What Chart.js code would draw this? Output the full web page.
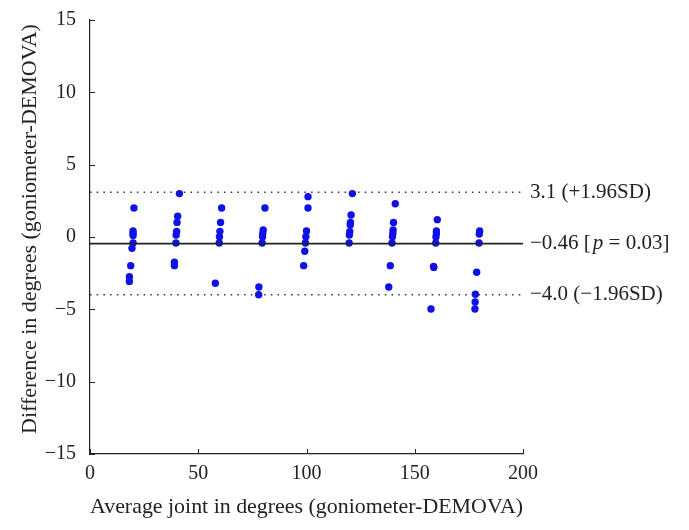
<!DOCTYPE html>
<html>
<head>
<meta charset="utf-8">
<title>Bland-Altman: goniometer vs DEMOVA</title>
<script src="https://cdn.jsdelivr.net/npm/chart.js@4/dist/chart.umd.min.js"></script>
<style>
  html, body { margin: 0; padding: 0; background: #fff; }
  #wrap { width: 689px; height: 530px; position: relative; }
</style>
</head>
<body>
<div id="wrap"><canvas id="ba-chart"></canvas></div>
<script>
// Average of the two methods (x) and their difference (y)
const avgDegrees = [
  20.3, 19.9, 19.9, 19.9, 19.9, 19.4, 18.8, 18.2, 18.2,
  41.3, 40.5, 40.2, 40.0, 39.8, 39.7, 39.0, 39.0,
  60.8, 60.3, 60.0, 59.8, 59.7, 57.9,
  80.8, 80.0, 79.8, 79.7, 79.5, 78.0, 77.9,
  100.7, 100.7, 100.0, 99.7, 99.5, 99.2, 98.7,
  121.2, 120.6, 120.3, 120.2, 120.0, 119.8, 119.7,
  141.0, 140.2, 140.0, 139.9, 139.7, 139.5, 138.7, 138.0,
  160.4, 160.0, 160.0, 159.8, 159.7, 158.7, 158.8, 157.5,
  180.0, 179.8, 179.7, 178.6, 178.0, 177.9, 177.8
];
const diffDegrees = [
  2.0, 0.41, 0.25, 0.1, -0.41, -0.78, -1.98, -2.74, -3.07,
  3.0, 1.43, 1.01, 0.39, 0.14, -0.41, -1.75, -1.98,
  2.0, 1.01, 0.39, 0.02, -0.41, -3.2,
  2.0, 0.48, 0.25, 0.02, -0.41, -3.46, -3.99,
  2.79, 2.0, 0.41, 0.02, -0.41, -0.99, -1.98,
  3.0, 1.52, 1.01, 0.83, 0.37, 0.14, -0.41,
  2.3, 1.01, 0.48, 0.25, 0.02, -0.41, -1.98, -3.46,
  1.2, 0.41, 0.25, 0.0, -0.41, -2.03, -2.1, -4.98,
  0.41, 0.2, -0.41, -2.44, -3.96, -4.49, -4.98
];

// Bias and limits of agreement
const lineRange = [0, 200];
const meanDiff = -0.46;
const upperLimit = 3.1;
const lowerLimit = -4.0;
const upperLabel = '3.1 (+1.96SD)';
const lowerLabel = '\u22124.0 (\u22121.96SD)';
const meanLabelParts = ['\u22120.46 [', 'p', ' = 0.03]'];

const xTicks = [0, 50, 100, 150, 200];
const yTicks = [-15, -10, -5, 0, 5, 10, 15];
const yTitle = 'Difference in degrees (goniometer-DEMOVA)';
const xTitle = 'Average joint in degrees (goniometer-DEMOVA)';

const FONT = '"Liberation Serif", "DejaVu Serif", serif';
const INK = '#222';

const points = avgDegrees.map((x, i) => ({ x: x, y: diffDegrees[i] }));
const hLine = v => lineRange.map(x => ({ x: x, y: v }));

// Inward tick marks, the y title, and the text labels right of the limit lines
const annotate = {
  id: 'annotate',
  afterDraw(chart) {
    const { ctx, chartArea, scales } = chart;
    const xs = scales.x, ys = scales.y;
    ctx.save();
    ctx.strokeStyle = INK;
    ctx.lineWidth = 1;
    yTicks.forEach(v => {
      const py = Math.round(ys.getPixelForValue(v)) + 0.5;
      ctx.beginPath();
      ctx.moveTo(chartArea.left, py);
      ctx.lineTo(chartArea.left + 5, py);
      ctx.stroke();
    });
    xTicks.forEach(v => {
      const px = Math.round(xs.getPixelForValue(v)) + 0.5;
      ctx.beginPath();
      ctx.moveTo(px, chartArea.bottom);
      ctx.lineTo(px, chartArea.bottom - 5);
      ctx.stroke();
    });

    ctx.fillStyle = INK;
    ctx.textBaseline = 'middle';

    // y title, sits a little above the middle of the plot like the original
    ctx.save();
    ctx.translate(30, 229);
    ctx.rotate(-Math.PI / 2);
    ctx.textAlign = 'center';
    ctx.font = '22px ' + FONT;
    ctx.fillText(yTitle, 0, 0);
    ctx.restore();

    ctx.textAlign = 'left';
    const tx = chartArea.right + 7;
    ctx.font = '21px ' + FONT;
    ctx.fillText(upperLabel, tx, ys.getPixelForValue(upperLimit));
    ctx.fillText(lowerLabel, tx, ys.getPixelForValue(lowerLimit));

    let cx = tx;
    const my = ys.getPixelForValue(meanDiff);
    meanLabelParts.forEach((part, i) => {
      ctx.font = (i === 1 ? 'italic ' : '') + '21px ' + FONT;
      ctx.fillText(part, cx, my);
      cx += ctx.measureText(part).width + (i === 0 ? 2 : 0);
    });
    ctx.restore();
  }
};

new Chart(document.getElementById('ba-chart'), {
  type: 'scatter',
  data: {
    datasets: [
      {
        label: 'Upper limit',
        type: 'line',
        data: hLine(upperLimit),
        borderColor: '#333',
        borderWidth: 1.5,
        borderDash: [1.5, 5.2],
        pointRadius: 0,
        fill: false
      },
      {
        label: 'Lower limit',
        type: 'line',
        data: hLine(lowerLimit),
        borderColor: '#333',
        borderWidth: 1.5,
        borderDash: [1.5, 5.2],
        pointRadius: 0,
        fill: false
      },
      {
        label: 'Mean difference',
        type: 'line',
        data: hLine(meanDiff),
        borderColor: INK,
        borderWidth: 1.6,
        pointRadius: 0,
        fill: false
      },
      {
        label: 'Measurements',
        data: points,
        backgroundColor: '#1010e8',
        borderColor: '#1010e8',
        pointRadius: 3.7,
        borderWidth: 0
      }
    ]
  },
  options: {
    responsive: true,
    maintainAspectRatio: false,
    animation: false,
    layout: {
      padding: { top: 20, right: 166, left: 0, bottom: 0 }
    },
    plugins: {
      legend: { display: false },
      tooltip: { enabled: false }
    },
    scales: {
      x: {
        type: 'linear',
        min: 0,
        max: 200,
        afterBuildTicks: axis => { axis.ticks = xTicks.map(v => ({ value: v })); },
        afterFit: axis => { axis.height = 76; },
        grid: { display: false },
        border: { display: true, color: INK, width: 1.2 },
        ticks: { color: INK, font: { family: FONT, size: 20 }, padding: 0 },
        title: {
          display: true,
          text: xTitle,
          color: INK,
          font: { family: FONT, size: 22 },
          padding: { top: 0, bottom: 10 }
        }
      },
      y: {
        type: 'linear',
        min: -15,
        max: 15,
        afterBuildTicks: axis => { axis.ticks = yTicks.map(v => ({ value: v })); },
        afterFit: axis => { axis.width = 90; },
        grid: { display: false },
        border: { display: true, color: INK, width: 1.2 },
        ticks: {
          color: INK,
          font: { family: FONT, size: 20 },
          padding: 6,
          callback: v => (v < 0 ? '\u2212' + Math.abs(v) : String(v))
        },
        title: { display: false }
      }
    }
  },
  plugins: [annotate]
});
</script>
</body>
</html>
